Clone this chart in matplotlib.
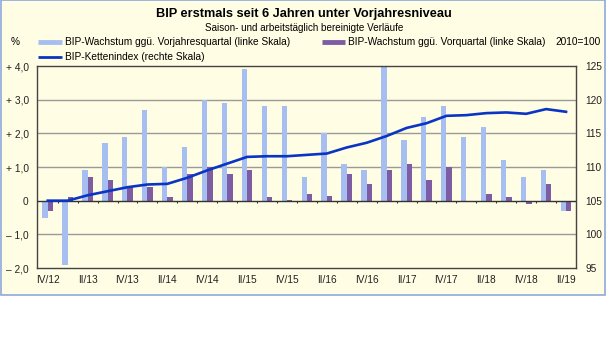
# Imports
import matplotlib
matplotlib.use("Agg")
import matplotlib.pyplot as plt
from matplotlib.lines import Line2D
from matplotlib.patches import Rectangle

# DATA
quarters = ["IV/12", "I/13", "II/13", "III/13", "IV/13", "I/14", "II/14", "III/14", "IV/14",
            "I/15", "II/15", "III/15", "IV/15", "I/16", "II/16", "III/16", "IV/16",
            "I/17", "II/17", "III/17", "IV/17", "I/18", "II/18", "III/18", "IV/18",
            "I/19", "II/19"]
yoy = [-0.5, -1.9, 0.9, 1.7, 1.9, 2.7, 1.0, 1.6, 3.0, 2.9, 3.9, 2.8, 2.8, 0.7,
       2.0, 1.1, 0.9, 4.0, 1.8, 2.5, 2.8, 1.9, 2.2, 1.2, 0.7, 0.9, -0.3]
qoq = [-0.3, 0.1, 0.7, 0.6, 0.4, 0.4, 0.1, 0.8, 1.0, 0.8, 0.9, 0.1, 0.02, 0.2,
       0.15, 0.8, 0.5, 0.9, 1.1, 0.6, 1.0, 0.0, 0.2, 0.1, -0.1, 0.5, -0.3]
index = [105.0, 105.0, 105.8, 106.4, 107.0, 107.4, 107.5, 108.4, 109.5, 110.5,
         111.5, 111.6, 111.6, 111.8, 112.0, 112.9, 113.6, 114.6, 115.8, 116.5,
         117.6, 117.7, 118.0, 118.1, 117.9, 118.6, 118.2]

left_ticks = [-2, -1, 0, 1, 2, 3, 4]
left_labels = ["\u2013 2,0", "\u2013 1,0", "0", "+ 1,0", "+ 2,0", "+ 3,0", "+ 4,0"]
right_ticks = [95, 100, 105, 110, 115, 120, 125]

BG = "#FFFDE3"
LIGHT = "#A7BEF0"
PURPLE = "#7D5CA3"
BLUE = "#0A34C4"
W, H = 608, 338


def main() -> None:
    plt.rcParams["font.family"] = ["Liberation Sans", "DejaVu Sans"]
    fs = 7.3

    fig = plt.figure(figsize=(W / 100, H / 100), dpi=100, facecolor="white")

    # cream panel with blue border (behind everything)
    panel = Rectangle((1 / W, 1 - 295 / H), 604 / W, 295 / H,
                      transform=fig.transFigure, facecolor=BG,
                      edgecolor="#8FA8DA", lw=1.2, zorder=-10)
    fig.add_artist(panel)

    ax = fig.add_axes([37 / W, 1 - 268 / H, (576 - 37) / W, (268 - 66) / H])
    ax.set_facecolor(BG)
    x = list(range(len(quarters)))
    bw = 0.27

    # GRID + BARS
    for t in [-1, 1, 2, 3]:
        ax.axhline(t, color="#9A9A9A", lw=1.0, zorder=1)
    ax.bar([i - bw / 2 for i in x], yoy, width=bw, color=LIGHT, zorder=2)
    ax.bar([i + bw / 2 for i in x], qoq, width=bw, color=PURPLE, zorder=2)
    ax.axhline(0, color="#333333", lw=1.0, zorder=3)
    ax.vlines([i + 0.5 for i in x[:-1]], -0.06, 0, color="#333333", lw=0.8, zorder=3)

    ax.set_xlim(-0.54, 26.5)
    ax.set_ylim(-2, 4)
    ax.set_yticks(left_ticks)
    ax.set_yticklabels(left_labels)
    ax.set_xticks(x[::2])
    ax.set_xticklabels(quarters[::2])
    ax.tick_params(axis="both", length=0, labelsize=fs, colors="#222222")
    ax.tick_params(axis="y", pad=6)
    ax.tick_params(axis="x", pad=5)
    for s in ax.spines.values():
        s.set_color("#444444")
        s.set_linewidth(1.0)

    # INDEX LINE (right scale)
    ax2 = ax.twinx()
    ax2.plot(x, index, color=BLUE, lw=1.9, zorder=5)
    ax2.set_ylim(95, 125)
    ax2.set_yticks(right_ticks)
    ax2.tick_params(axis="y", length=0, labelsize=fs, colors="#222222", pad=7)
    for s in ax2.spines.values():
        s.set_visible(False)

    # TITLES
    fig.text(0.5, 1 - 14 / H, "BIP erstmals seit 6 Jahren unter Vorjahresniveau",
             ha="center", va="center", fontsize=9.2, fontweight="bold")
    fig.text(0.5, 1 - 28 / H, "Saison- und arbeitstäglich bereinigte Verläufe",
             ha="center", va="center", fontsize=7.1)

    # LEGEND
    y1, y2 = 1 - 42 / H, 1 - 57 / H
    fig.text(15 / W, y1, "%", ha="center", va="center", fontsize=fs)
    fig.text(601 / W, y1, "2010=100", ha="right", va="center", fontsize=fs)
    fig.add_artist(Line2D([38 / W, 62 / W], [y1, y1], transform=fig.transFigure,
                          color=LIGHT, lw=3.5, solid_capstyle="butt"))
    fig.text(65 / W, y1, "BIP-Wachstum ggü. Vorjahresquartal (linke Skala)",
             ha="left", va="center", fontsize=fs)
    fig.add_artist(Line2D([322 / W, 345 / W], [y1, y1], transform=fig.transFigure,
                          color=PURPLE, lw=3.5, solid_capstyle="butt"))
    fig.text(348 / W, y1, "BIP-Wachstum ggü. Vorquartal (linke Skala)",
             ha="left", va="center", fontsize=fs)
    fig.add_artist(Line2D([38 / W, 62 / W], [y2, y2], transform=fig.transFigure,
                          color=BLUE, lw=2.0, solid_capstyle="butt"))
    fig.text(65 / W, y2, "BIP-Kettenindex (rechte Skala)",
             ha="left", va="center", fontsize=fs)

    fig.savefig("out.png", dpi=100)


if __name__ == "__main__":
    main()
